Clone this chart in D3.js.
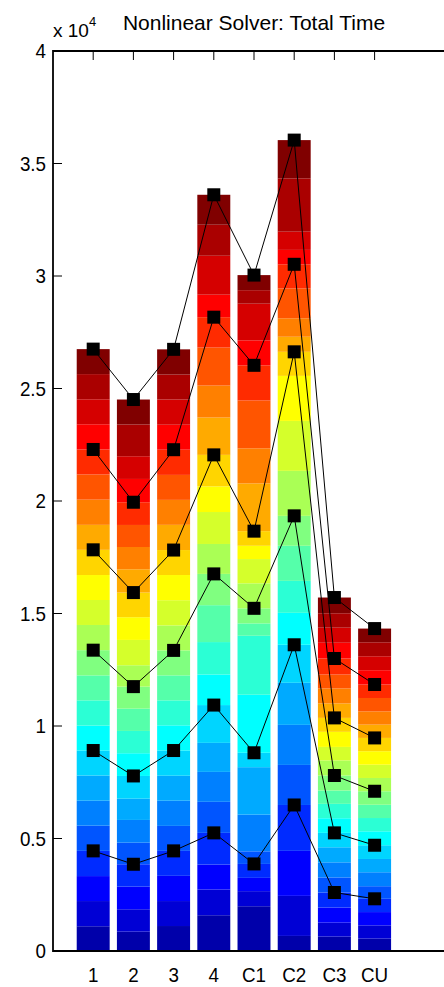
<!DOCTYPE html>
<html>
<head>
<meta charset="utf-8">
<script src="https://cdn.jsdelivr.net/npm/d3@7"></script>
<style>
  body { margin: 0; background: #fff; }
  svg { display: block; font-family: "Liberation Sans", Arial, sans-serif; }
</style>
</head>
<body>
<div id="chart"></div>
<script>
// categories on the x axis
var categories = ['1', '2', '3', '4', 'C1', 'C2', 'C3', 'CU'];

// stacked segment times per run, bottom to top (24 steps each)
var segments_1  = [1100,1120,1110,1120, 1120,1110,1120,1110, 1110,1120,1110,1120, 1120,1110,1110,1120, 1110,1120,1120,1110, 1120,1110,1120,1110];
var segments_2  = [860,995,1005,995, 960,1010,945,1010, 1010,990,990,980, 950,1125,1010,1095, 1035,990,980,1010, 1035,1010,1410,1110];
var segments_3  = [1110,1110,1120,1110, 1110,1120,1110,1120, 1120,1110,1110,1110, 1110,1120,1120,1110, 1120,1110,1110,1120, 1110,1120,1110,1120];
var segments_4  = [1590,1140,1110,1410, 1380,1330,1290,1680, 1360,1440,1640,1390, 1330,1420,1140,1400, 1660,1420,1690,1350, 1000,1730,1380,1330];
var segments_C1 = [1990,670,590,620, 560,1630,2110,640, 2580,2620,550,670, 1110,1080,590,650, 2120,1560,2130,1560, 1110,1630,600,670];
var segments_C2 = [670,1780,2000,2040, 1780,1780,1870,1690, 1420,1420,1560,1330, 2000,2220,2000,1070, 670,820,1330,1070, 640,810,2370,1700];
var segments_C3 = [640,620,670,670, 670,670,670,640, 650,640,590,670, 670,600,670,620, 640,670,620,710, 700,670,640,700];
var segments_CU = [550,590,590,590, 560,620,590,610, 620,590,590,600, 590,590,600,590, 590,590,595,600, 635,620,620,610];

var series = [segments_1, segments_2, segments_3, segments_4, segments_C1, segments_C2, segments_C3, segments_CU];

// y axis ticks (values shown in units of 10^4)
var yTicks = [0, 5000, 10000, 15000, 20000, 25000, 30000, 35000, 40000];
var yTickLabels = ['0', '0.5', '1', '1.5', '2', '2.5', '3', '3.5', '4'];

var W = 444, H = 987;
var nSeg = 24, markEvery = 4;

// matlab style jet colormap
function jet(m){
  var n = Math.ceil(m/4), u = [], i;
  for(i=1;i<=n;i++) u.push(i/n);
  for(i=1;i<n;i++) u.push(1);
  for(i=n;i>=1;i--) u.push(i/n);
  var g0 = Math.ceil(n/2) - (m%4==1 ? 1 : 0);
  var cols = [];
  for(i=0;i<m;i++) cols.push([0,0,0]);
  u.forEach(function(v, k){
    var g = g0 + k + 1, r = g + n, b = g - n;
    if(g>=1 && g<=m) cols[g-1][1] = v;
    if(r>=1 && r<=m) cols[r-1][0] = v;
    if(b>=1 && b<=m) cols[b-1][2] = v;
  });
  return cols.map(function(c){ return d3.rgb(c[0]*255, c[1]*255, c[2]*255).toString(); });
}
var colors = jet(nSeg);

var svg = d3.select('#chart').append('svg').attr('width', W).attr('height', H);

var x = d3.scaleLinear().domain([0, 10]).range([53, 455]);
var y = d3.scaleLinear().domain([0, 40000]).range([951, 51]);
var barW = x(0.82) - x(0);

// ticks (inside), under the bars
var tk = svg.append('g').attr('stroke', '#000').attr('stroke-width', 1);
yTicks.forEach(function(t){
  tk.append('line').attr('x1', x(0)).attr('x2', x(0)+9).attr('y1', y(t)).attr('y2', y(t));
});
categories.forEach(function(c, i){
  tk.append('line').attr('x1', x(i+1)).attr('x2', x(i+1)).attr('y1', y(40000)).attr('y2', y(40000)+9);
  tk.append('line').attr('x1', x(i+1)).attr('x2', x(i+1)).attr('y1', y(0)).attr('y2', y(0)-9);
});

// stacked bars
var tops = series.map(function(s){ return Array.from(d3.cumsum(s)); });
var bars = svg.append('g');
series.forEach(function(s, i){
  var cum = tops[i];
  s.forEach(function(v, j){
    var y0 = j==0 ? 0 : cum[j-1];
    bars.append('rect')
      .attr('x', x(i+1) - barW/2)
      .attr('width', barW)
      .attr('y', y(cum[j]))
      .attr('height', y(y0) - y(cum[j]))
      .attr('fill', colors[j]);
  });
});

// lines linking the same step level between runs
var levels = d3.range(markEvery-1, nSeg, markEvery);
var line = d3.line().x(function(d){ return x(d.i+1); }).y(function(d){ return y(d.v); });
levels.forEach(function(l){
  var pts = tops.map(function(c, i){ return {i: i, v: c[l]}; });
  svg.append('path').attr('d', line(pts)).attr('fill', 'none').attr('stroke', '#000').attr('stroke-width', 1);
});
levels.forEach(function(l){
  tops.forEach(function(c, i){
    svg.append('rect')
      .attr('x', x(i+1) - 6.5).attr('y', y(c[l]) - 6.5)
      .attr('width', 13).attr('height', 13)
      .attr('fill', '#000');
  });
});

// axes box
svg.append('line').attr('x1', x(0)).attr('x2', x(10)).attr('y1', y(0)).attr('y2', y(0)).attr('stroke', '#000').attr('stroke-width', 1.8);
svg.append('line').attr('x1', x(0)).attr('x2', x(10)).attr('y1', y(40000)).attr('y2', y(40000)).attr('stroke', '#000').attr('stroke-width', 1.8);
svg.append('line').attr('x1', x(0)).attr('x2', x(0)).attr('y1', y(0)+0.9).attr('y2', y(40000)-0.9).attr('stroke', '#000').attr('stroke-width', 1.8);

// tick labels (slightly narrow, like the original export)
yTicks.forEach(function(t, k){
  svg.append('text').attr('transform', 'translate(46,' + y(t) + ') scale(0.94,1)').attr('dy', '0.36em')
    .attr('text-anchor', 'end').attr('font-size', 20).text(yTickLabels[k]);
});
categories.forEach(function(c, i){
  svg.append('text').attr('transform', 'translate(' + x(i+1) + ',982) scale(0.94,1)')
    .attr('text-anchor', 'middle').attr('font-size', 20).text(c);
});

// exponent and title
var ex = svg.append('text').attr('x', 53).attr('y', 37).attr('font-size', 19);
ex.append('tspan').text('x 10');
ex.append('tspan').attr('font-size', 13).attr('dy', -11).text('4');
svg.append('text').attr('x', 254).attr('y', 30).attr('text-anchor', 'middle')
  .attr('font-size', 21).text('Nonlinear Solver: Total Time');
</script>
</body>
</html>
